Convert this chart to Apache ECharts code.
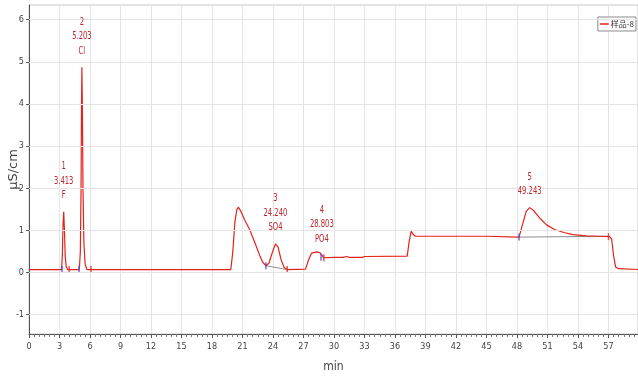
<!DOCTYPE html>
<html>
<head>
<meta charset="utf-8">
<script src="https://cdn.jsdelivr.net/npm/echarts@6/dist/echarts.min.js"></script>
<style>
  html, body { margin: 0; padding: 0; background: #fff; }
  #chart { width: 638px; height: 379px; }
</style>
</head>
<body>
<div id="chart"></div>
<script>
// Conductivity trace of sample 8 (time in min, signal in µS/cm)
const traceTime = [
  0, 3.2, 3.28, 3.34, 3.413, 3.48, 3.56, 3.66, 3.8,
  4.95, 5.05, 5.12, 5.16, 5.203, 5.25, 5.31, 5.4, 5.52, 5.7,
  19.85, 20.05, 20.25, 20.45, 20.6, 20.85, 21.2, 21.7, 22.2, 22.7, 23.0, 23.3,
  23.6, 23.9, 24.24, 24.5, 24.8, 25.1, 25.4,
  27.2, 27.5, 27.8, 28.3, 28.6, 28.803, 29.0, 30.0, 30.9, 31.2, 31.5, 32.8, 33.0,
  37.2, 37.4, 37.6, 37.8, 38.0, 45.0, 48.2,
  48.5, 48.9, 49.243, 49.6, 50.2, 50.9, 51.7, 52.6, 53.5, 54.8, 56.0, 57.1,
  57.3, 57.5, 57.7, 58.0, 60.0
];
const traceSignal = [
  0.07, 0.07, 0.4, 1.1, 1.44, 1.05, 0.4, 0.14, 0.07,
  0.07, 0.5, 2.0, 3.8, 4.87, 3.9, 2.0, 0.7, 0.2, 0.07,
  0.07, 0.5, 1.2, 1.5, 1.55, 1.45, 1.25, 1.02, 0.72, 0.4, 0.24, 0.16,
  0.22, 0.45, 0.68, 0.6, 0.3, 0.12, 0.07,
  0.08, 0.3, 0.46, 0.49, 0.47, 0.41, 0.35, 0.36, 0.36, 0.38, 0.36, 0.36, 0.38,
  0.39, 0.75, 0.98, 0.9, 0.86, 0.86, 0.84,
  1.1, 1.45, 1.54, 1.48, 1.3, 1.13, 1.02, 0.95, 0.9, 0.87, 0.86, 0.85,
  0.8, 0.4, 0.13, 0.09, 0.07
];

// Identified peaks
const peakNo = ['1', '2', '3', '4', '5'];
const peakTime = [3.413, 5.203, 24.240, 28.803, 49.243];
const peakHeight = [1.44, 4.87, 0.68, 0.41, 1.54];
const peakIon = ['F', 'Cl', 'SO4', 'PO4', ''];

// Integration start / end marks
const startTime = [3.25, 4.92, 23.3, 28.72, 48.2];
const startSignal = [0.07, 0.07, 0.16, 0.36, 0.84];
const endTime = [3.95, 6.1, 25.4, 29.0, 57.0];
const endSignal = [0.07, 0.07, 0.07, 0.35, 0.85];

// Drop baselines drawn under peaks 3 and 5
const base3 = [[23.3, 0.16], [25.4, 0.07]];
const base5 = [[48.2, 0.84], [57.0, 0.86]];

const yTicks = [-1, 0, 1, 2, 3, 4, 5, 6];

const narrow = '"DejaVu Sans Condensed", "Liberation Sans Narrow", "Noto Sans", sans-serif';
const labelColor = '#c0262b';
const lineColor = '#e2231a';

const chart = echarts.init(document.getElementById('chart'), null, { renderer: 'canvas' });

chart.setOption({
  animation: false,
  backgroundColor: '#fff',
  grid: {
    left: 29, right: 0, top: 5, bottom: 45,
    outerBoundsMode: 'none',
    containLabel: false,
    show: true, borderColor: '#c8c8c8', borderWidth: 1
  },
  legend: {
    data: ['样品-8'],
    right: 2, top: 17,
    orient: 'vertical',
    backgroundColor: '#fff',
    borderColor: '#8a8a8a', borderWidth: 1,
    padding: [3, 2, 3, 2],
    itemWidth: 9, itemHeight: 1.5, itemGap: 2,
    icon: 'rect',
    textStyle: { fontSize: 8, color: '#333', fontFamily: '"Noto Sans CJK SC", sans-serif', padding: [0, 0, 0, -3] }
  },
  xAxis: {
    type: 'value',
    min: 0, max: 59.9, interval: 3,
    name: 'min',
    nameLocation: 'middle',
    nameGap: 27,
    nameMoveOverlap: false,
    nameTextStyle: { fontSize: 12, color: '#444', fontFamily: narrow },
    axisLine: { onZero: false, lineStyle: { color: '#555', width: 1 } },
    axisTick: { show: true, length: 4, lineStyle: { color: '#555' } },
    minorTick: { show: true, splitNumber: 6, length: 3, lineStyle: { color: '#777' } },
    axisLabel: { fontSize: 9, color: '#444', margin: 8, fontFamily: narrow, showMaxLabel: false },
    splitLine: { show: true, lineStyle: { color: '#e4e4e4', width: 1 } }
  },
  yAxis: {
    type: 'value',
    min: -1.46, max: 6.35,
    name: 'μS/cm',
    nameLocation: 'middle',
    nameGap: 9,
    nameMoveOverlap: false,
    nameTextStyle: { fontSize: 13, color: '#444', fontFamily: '"DejaVu Sans", sans-serif' },
    axisLine: { show: true, lineStyle: { color: '#555', width: 1 } },
    axisTick: { show: true, length: 3, customValues: yTicks, lineStyle: { color: '#555' } },
    axisLabel: { fontSize: 9, color: '#444', margin: 5, fontFamily: narrow, customValues: yTicks },
    splitLine: { show: false }
  },
  series: [
    {
      // horizontal grid lines at the labelled values
      type: 'line',
      data: [],
      silent: true,
      z: 0,
      markLine: {
        silent: true,
        symbol: 'none',
        label: { show: false },
        lineStyle: { color: '#e4e4e4', width: 1, type: 'solid' },
        data: yTicks.map(v => ({ yAxis: v }))
      }
    },
    {
      type: 'line',
      data: base3,
      showSymbol: false,
      silent: true,
      lineStyle: { color: '#8c8c8c', width: 1 },
      z: 2
    },
    {
      type: 'line',
      data: base5,
      showSymbol: false,
      silent: true,
      lineStyle: { color: '#8c8c8c', width: 1 },
      z: 2
    },
    {
      name: '样品-8',
      type: 'line',
      data: traceTime.map((t, i) => [t, traceSignal[i]]),
      showSymbol: false,
      color: lineColor,
      lineStyle: { color: lineColor, width: 1.2 },
      z: 3
    },
    {
      type: 'scatter',
      data: startTime.map((t, i) => [t, startSignal[i]]),
      symbol: 'rect',
      symbolSize: [1.5, 7],
      itemStyle: { color: '#4b4bd6' },
      silent: true,
      z: 4
    },
    {
      type: 'scatter',
      data: endTime.map((t, i) => [t, endSignal[i]]),
      symbol: 'rect',
      symbolSize: [1.5, 7],
      itemStyle: { color: '#d93030' },
      silent: true,
      z: 4
    }
  ]
});

// Peak annotations (number / retention time / ion), set in a condensed face
// and anchored above each peak apex through the chart's coordinate system.
const peakLabels = peakTime.map((t, i) => {
  const p = chart.convertToPixel({ gridIndex: 0 }, [t, peakHeight[i]]);
  const lines = [peakNo[i], peakTime[i].toFixed(3)];
  if (peakIon[i]) lines.push(peakIon[i]);
  return {
    type: 'text',
    x: p[0],
    y: p[1] - 9,
    scaleX: 0.62,
    silent: true,
    z: 10,
    style: {
      text: lines.join('\n'),
      fill: labelColor,
      fontSize: 11,
      lineHeight: 14.5,
      fontFamily: '"DejaVu Sans", sans-serif',
      align: 'center',
      verticalAlign: 'bottom'
    }
  };
});
chart.setOption({ graphic: peakLabels });
</script>
</body>
</html>
